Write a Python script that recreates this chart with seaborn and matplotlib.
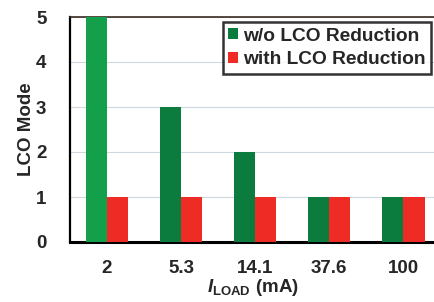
import numpy as np
import pandas as pd
import matplotlib
matplotlib.use('Agg')
import matplotlib.pyplot as plt
import seaborn as sns

# data
loads = ['2', '5.3', '14.1', '37.6', '100']
wo_reduction = [5, 3, 2, 1, 1]
with_reduction = [1, 1, 1, 1, 1]
series_names = ['w/o LCO Reduction', 'with LCO Reduction']
y_ticks = [0, 1, 2, 3, 4, 5]

df = pd.DataFrame({
    'load': loads * 2,
    'mode': wo_reduction + with_reduction,
    'series': [series_names[0]] * len(loads) + [series_names[1]] * len(loads),
})

sns.set_style('white')
plt.rcParams['font.family'] = ['Liberation Sans', 'DejaVu Sans']
plt.rcParams['font.weight'] = 'bold'
plt.rcParams['mathtext.fontset'] = 'custom'
plt.rcParams['mathtext.rm'] = 'Liberation Sans:bold'
plt.rcParams['mathtext.it'] = 'Liberation Sans:bold:italic'

green = '#0b7b3e'
green_light = '#14a04b'
red = '#ee2b25'

fig = plt.figure(figsize=(4.35, 3.02), dpi=100)
ax = fig.add_axes([70 / 435, 1 - 242 / 302, 366 / 435, 225 / 302])

sns.barplot(data=df, x='load', y='mode', hue='series', order=loads,
            hue_order=series_names, palette=[green, red], width=0.57,
            saturation=1, linewidth=0, ax=ax, zorder=3)

# first green bar is a lighter shade in the original
ax.patches[0].set_facecolor(green_light)

ax.set_ylim(0, 5)
ax.set_xlim(-0.5, 4.44)
ax.set_yticks(y_ticks)
ax.yaxis.grid(True, color='#cdd9e2', linewidth=0.8, zorder=0)
ax.set_axisbelow(True)

for s in ['left', 'bottom']:
    ax.spines[s].set_color('black')
ax.spines['left'].set_linewidth(1.6)
ax.spines['bottom'].set_linewidth(2.2)
ax.spines['top'].set_color('#3a2a20')
ax.spines['top'].set_linewidth(1.2)
ax.spines['right'].set_visible(False)

ax.tick_params(axis='both', length=0, labelsize=13.5)
ax.tick_params(axis='x', pad=13)
ax.tick_params(axis='y', pad=17)
ax.set_ylabel('LCO Mode', fontsize=13.5, fontweight='bold', labelpad=1)
ax.set_xlabel(r'$\mathit{I}_{\mathrm{LOAD}}$ (mA)', fontsize=13.5,
              fontweight='bold', labelpad=0)

leg = ax.legend(loc='upper right', bbox_to_anchor=(0.986, 0.978),
                fontsize=13.8, frameon=True, fancybox=False,
                handlelength=0.5, handleheight=0.5, handletextpad=0.25,
                borderpad=0.3, labelspacing=0.35, borderaxespad=0)
leg.get_frame().set_edgecolor('black')
leg.get_frame().set_linewidth(1.8)
for t in leg.get_texts():
    t.set_fontweight('bold')

fig.savefig('out.png', dpi=100)
